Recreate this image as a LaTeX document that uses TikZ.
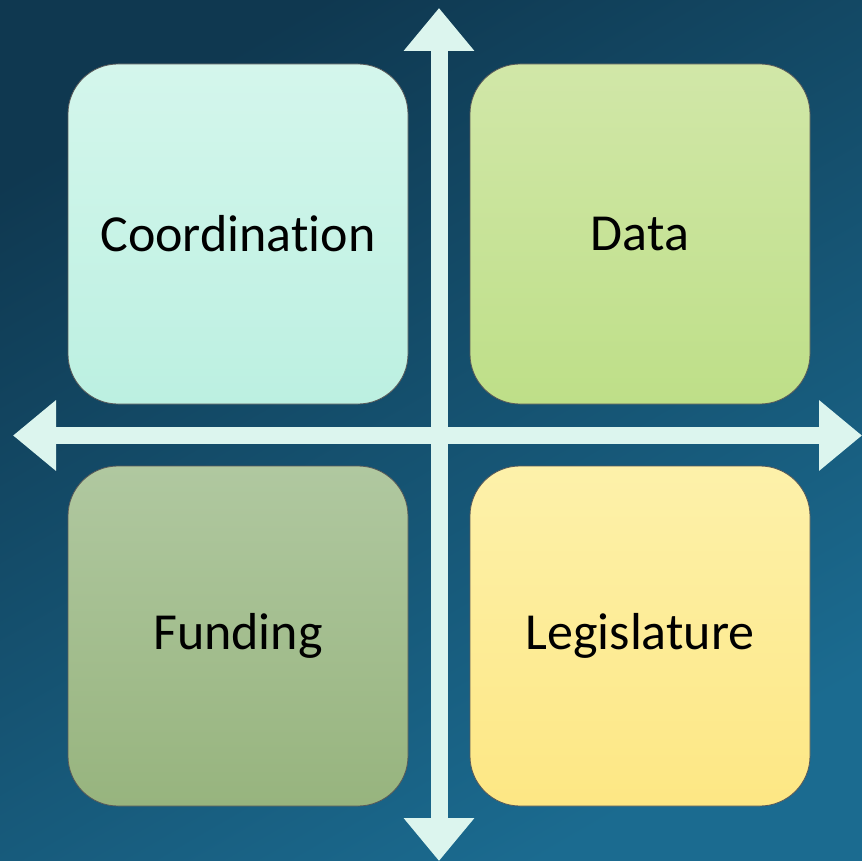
\documentclass[tikz,border=0pt]{standalone}
\usepackage{fontspec}
\setmainfont{Carlito}[Ligatures={NoCommon,NoContextual}]
\usetikzlibrary{arrows.meta}
\definecolor{bgA}{HTML}{0F3850}
\definecolor{bgB}{HTML}{1B6B90}
\definecolor{arr}{HTML}{DCF5EE}
\definecolor{coT}{HTML}{D4F6EC}
\definecolor{coB}{HTML}{BCF0E1}
\definecolor{daT}{HTML}{D1E7A8}
\definecolor{daB}{HTML}{BEDF88}
\definecolor{fuT}{HTML}{B0C8A0}
\definecolor{fuB}{HTML}{97B47E}
\definecolor{leT}{HTML}{FDF1AA}
\definecolor{leB}{HTML}{FDE784}
\begin{document}
\begin{tikzpicture}[x=1pt,y=-1pt,
  quad/.style={rounded corners=50pt,minimum width=340pt,minimum height=340pt,
    draw=black!65,line width=0.8pt,inner sep=0pt,font=\fontsize{52}{56}\selectfont,text=black},
  axis/.style={arr,line width=17pt,{Triangle[width=68pt,length=43pt]}-{Triangle[width=68pt,length=43pt]}}]
\useasboundingbox (0,0) rectangle (862,861);
\shade[top color=bgA,bottom color=bgB,shading angle=30] (0,0) rectangle (862,861);
\node[quad,top color=coT,bottom color=coB] (coord) at (238,234) {Coordination};
\node[quad,top color=daT,bottom color=daB] (data) at (640,234) {Data};
\node[quad,top color=fuT,bottom color=fuB] (fund) at (238,636) {Funding};
\node[quad,top color=leT,bottom color=leB] (legis) at (640,636) {Legislature};
\coordinate (top) at (439,8);
\coordinate (bot) at (439,861);
\coordinate (lft) at (13,435.5);
\coordinate (rgt) at (862,435.5);
\draw[axis] (bot) -- (top);
\draw[axis] (lft) -- (rgt);
\end{tikzpicture}
\end{document}
